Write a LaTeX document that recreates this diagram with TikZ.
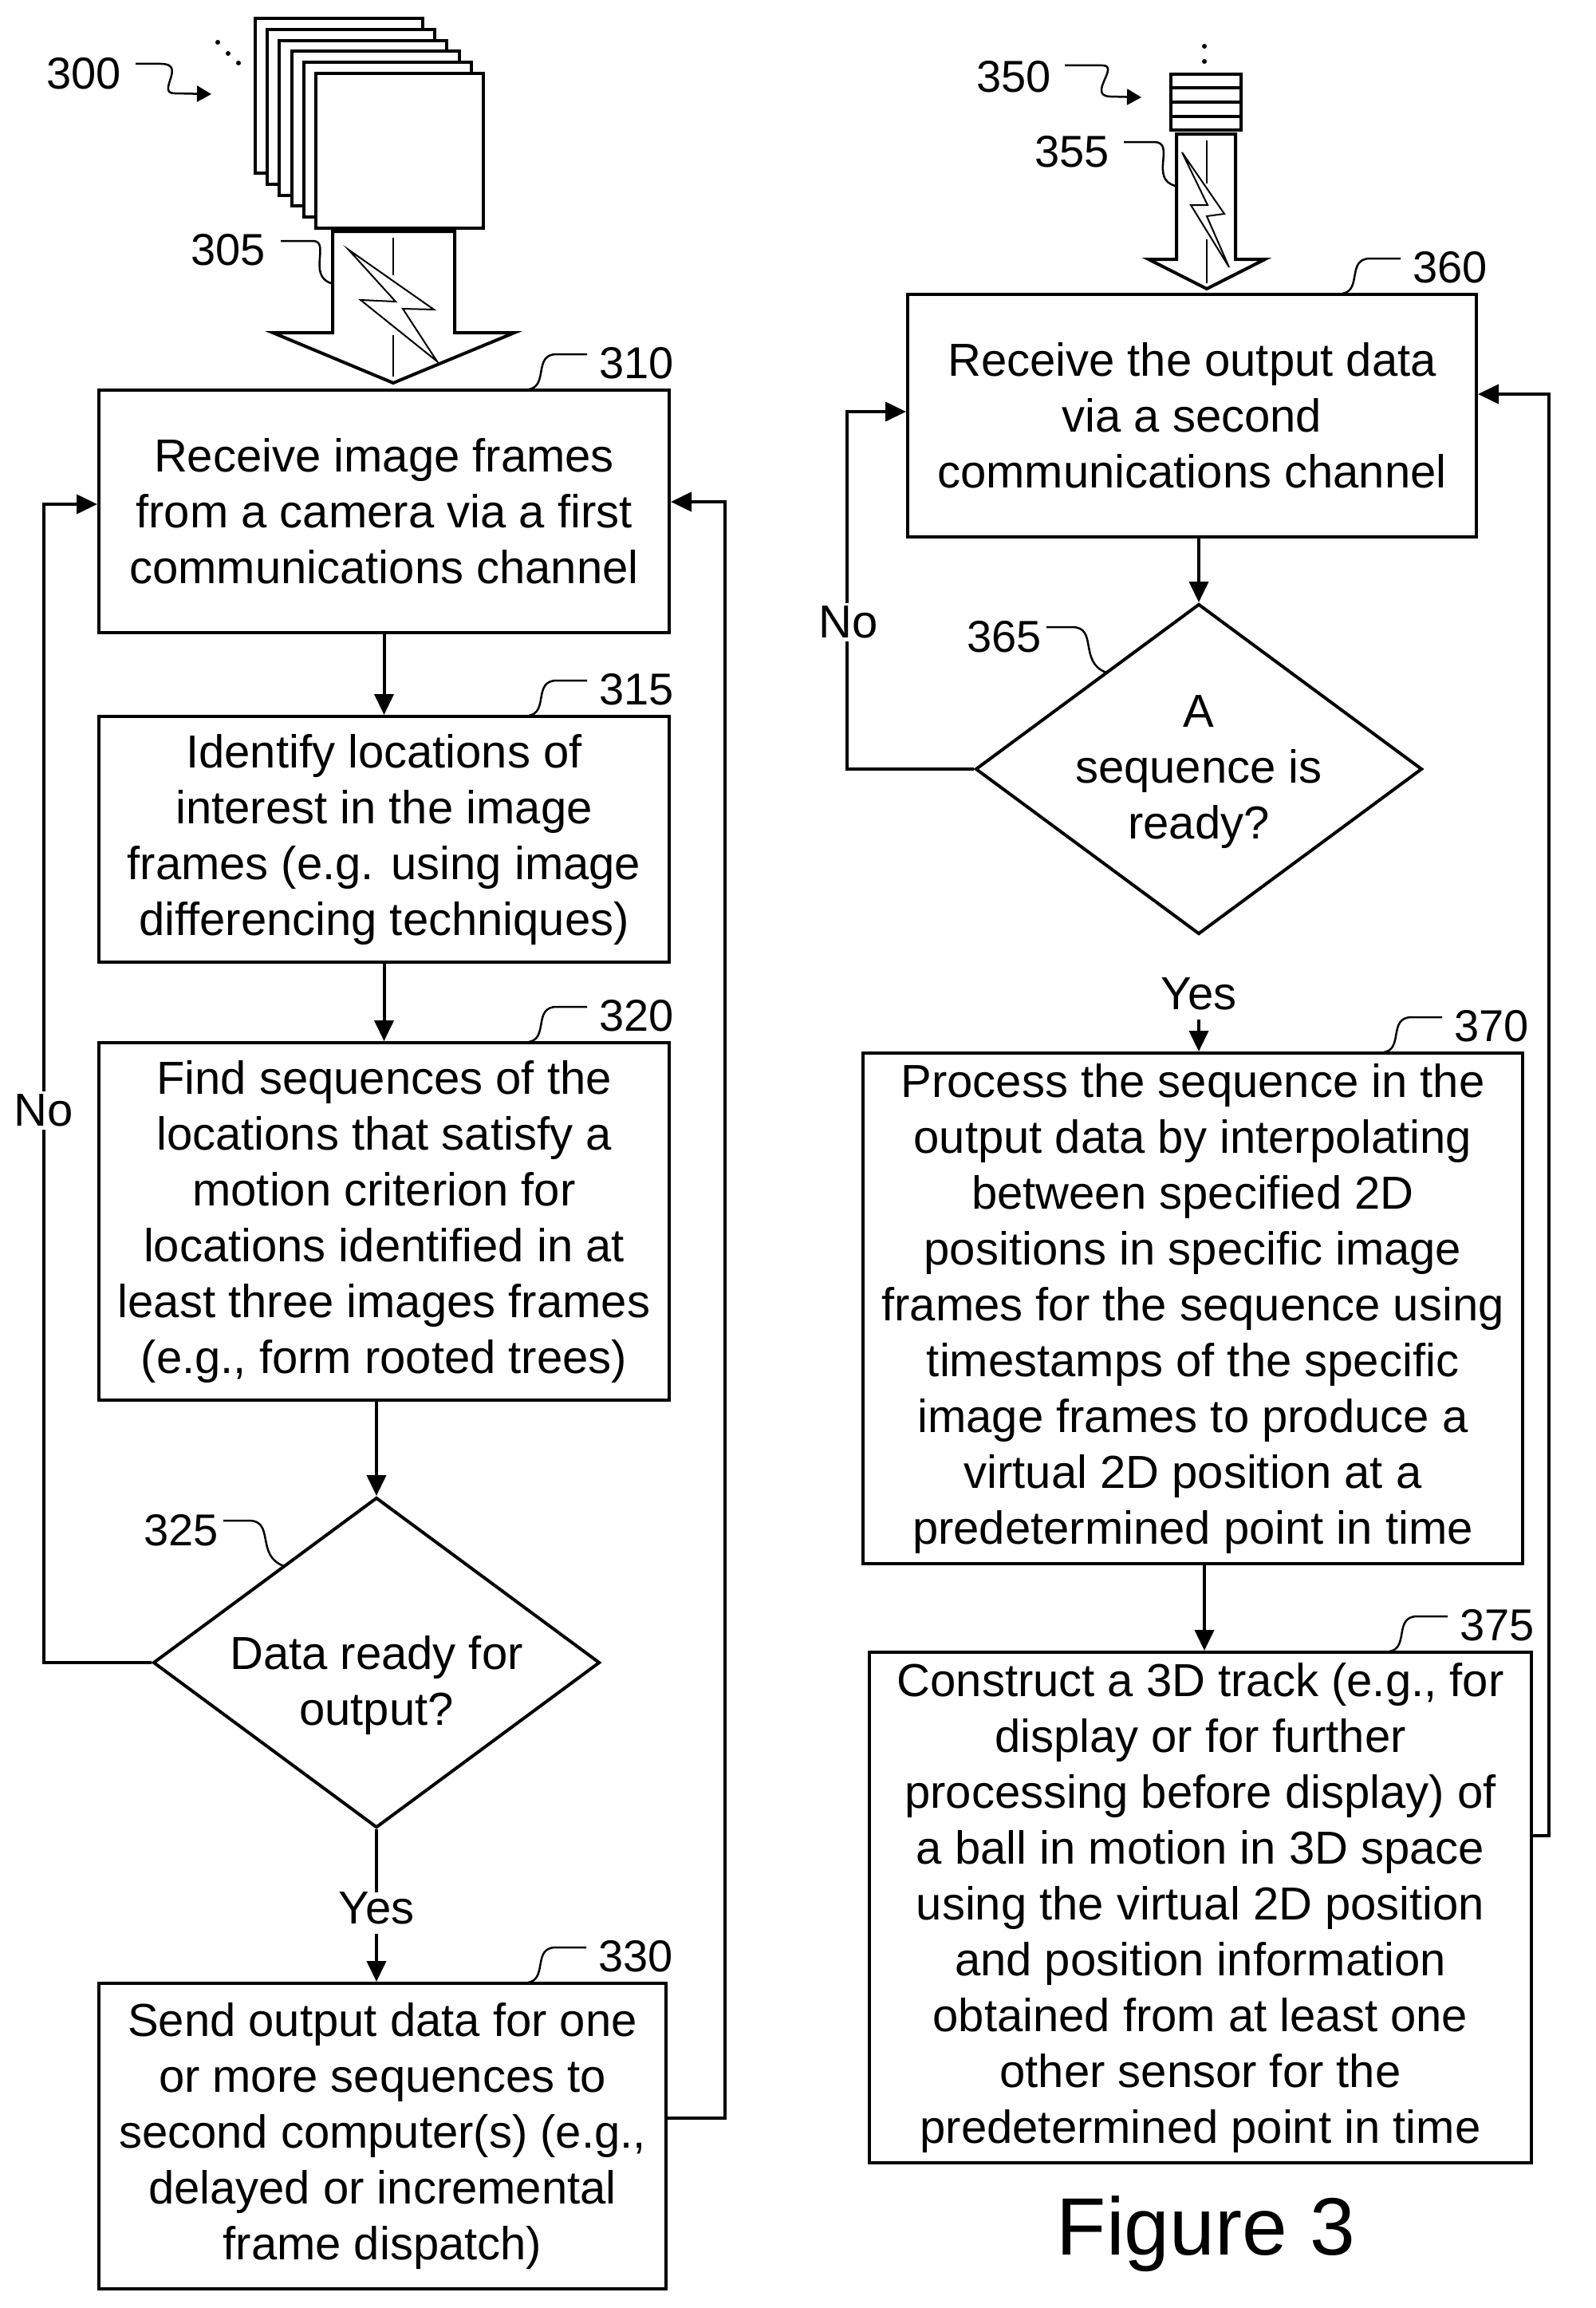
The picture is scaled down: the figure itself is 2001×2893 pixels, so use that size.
\documentclass[tikz,border=0pt]{standalone}
\usepackage{fontspec}
\setmainfont{Liberation Sans}
\usetikzlibrary{arrows.meta,shapes.geometric}
\begin{document}
\begin{tikzpicture}[x=1pt,y=-1pt,
  box/.style={draw,line width=4pt,align=center,inner sep=0pt,font=\fontsize{58}{70}\selectfont},
  dia/.style={draw,diamond,line width=4pt,inner sep=0pt,minimum width=560pt,minimum height=414pt},
  txt/.style={align=center,font=\fontsize{58}{70}\selectfont},
  lab/.style={font=\fontsize{56}{66}\selectfont},
  con/.style={line width=4pt,-{Triangle[length=26pt,width=24pt]}},
  ln/.style={line width=4pt},
  sq/.style={line width=2.5pt},
  frm/.style={draw,fill=white,line width=4pt}]
\useasboundingbox (0,0) rectangle (2001,2893);
% frames stack
\foreach \i in {0,...,5}{
  \draw[frm] (320+15.2*\i,23+13.8*\i) rectangle ++(210,194);
}
\fill (273,53) circle (3pt) (286,67) circle (3pt) (299,79) circle (3pt);
\node[lab] (l300) at (105,92) {300};
\coordinate (a300) at (170,80);
\draw[sq,-{Triangle[length=18pt,width=20pt]}] (a300) -- (202,80) .. controls (235,80) and (195,117) .. (219,117) -- (265,118);
% big arrow 305
\draw[ln,fill=white] (417,290) -- (570,290) -- (570,417) -- (645,417) -- (493,480) -- (342,417) -- (417,417) -- cycle;
\draw[line width=1.5pt] (493,298) -- (493,345) (493,420) -- (493,472);
\draw[line width=2pt,fill=white] (437,313) -- (496,378) -- (452,376) -- (548,453) -- (505,387) -- (544,388) -- cycle;
\node[lab] (l305) at (286,313) {305};
\coordinate (s305) at (352,302);
\draw[sq] (s305) -- (392,302) .. controls (415,302) and (385,345) .. (415,355);
% stack 350
\draw[line width=4pt,fill=white] (1468,93) rectangle (1556,163);
\foreach \y in {110,128,146}{\draw[line width=4pt] (1468,\y) -- (1556,\y);}
\fill (1510,58) circle (3pt) (1510,77) circle (3pt);
\node[lab] (l350) at (1271,96) {350};
\coordinate (a350) at (1335,82);
\draw[sq,-{Triangle[length=18pt,width=20pt]}] (a350) -- (1382,82) .. controls (1405,82) and (1362,120) .. (1392,121) -- (1431,122);
% arrow 355
\draw[ln,fill=white] (1475,168) -- (1549,168) -- (1549,325) -- (1586,325) -- (1513,362) -- (1440,325) -- (1475,325) -- cycle;
\draw[line width=1.5pt] (1513,176) -- (1513,230) (1513,300) -- (1513,355);
\draw[line width=2pt,fill=white] (1482,191) -- (1535,268) -- (1513,271) -- (1541,335) -- (1493,257) -- (1514,257) -- cycle;
\node[lab] (l355) at (1344,190) {355};
\coordinate (s355) at (1409,178);
\draw[sq] (s355) -- (1447,178) .. controls (1475,178) and (1440,225) .. (1474,233);
% left column
\node[box,minimum width=715pt,minimum height=304pt] (b310) at (481.5,641) {Receive image frames\\from a camera via a first\\communications channel};
\node[box,minimum width=715pt,minimum height=308pt] (b315) at (481.5,1052) {Identify locations of\\interest in the image\\frames (e.g. using image\\differencing techniques)};
\node[box,minimum width=715pt,minimum height=448pt] (b320) at (481.5,1531) {Find sequences of the\\locations that satisfy a\\motion criterion for\\locations identified in at\\least three images frames\\(e.g., form rooted trees)};
\node[dia] (d325) at (472,2084) {};
\node[txt] (t325) at (472,2112) {Data ready for\\output?};
\node[box,minimum width=711pt,minimum height=383pt] (b330) at (479.5,2677.5) {Send output data for one\\or more sequences to\\second computer(s) (e.g.,\\delayed or incremental\\frame dispatch)};
% right column
\node[box,minimum width=713pt,minimum height=304pt] (b360) at (1494.5,521) {Receive the output data\\via a second\\communications channel};
\node[dia] (d365) at (1503,964) {};
\node[txt] (t365) at (1503,968) {A\\sequence is\\ready?};
\node[box,minimum width=827pt,minimum height=640pt] (b370) at (1495.5,1640) {Process the sequence in the\\output data by interpolating\\between specified 2D\\positions in specific image\\frames for the sequence using\\timestamps of the specific\\image frames to produce a\\virtual 2D position at a\\predetermined point in time};
\node[box,minimum width=830pt,minimum height=640pt] (b375) at (1505,2391) {Construct a 3D track (e.g., for\\display or for further\\processing before display) of\\a ball in motion in 3D space\\using the virtual 2D position\\and position information\\obtained from at least one\\other sensor for the\\predetermined point in time};
\node[font=\fontsize{102}{120}\selectfont] (fig) at (1512,2800) {Figure 3};
% reference labels
\foreach \n/\x/\y/\t in {310/798/489/b310, 315/798/898/b315, 320/798/1307/b320, 330/797/2486/b330, 360/1818/369/b360, 370/1870/1320/b370, 375/1877/2071/b375}{
  \node[lab] (l\n) at (\x,\y-34) {\n};
  \draw[sq] (\x-135,\y-1) .. controls (\x-110,\y-5) and (\x-130,\y-45) .. (\x-100,\y-45) -- (\x-62,\y-45);
}
\node[lab] (l325) at (227,1918) {325};
\draw[sq] (280,1906) -- (312,1906) .. controls (345,1906) and (320,1950) .. (356,1963);
\node[lab] (l365) at (1259,798) {365};
\draw[sq] (1312,786) -- (1344,786) .. controls (1377,786) and (1352,830) .. (1387,843);
% connectors
\draw[con] (b310.south) -- (b315.north);
\draw[con] (b315.south) -- (b320.north);
\draw[con] (b320.south -| d325.north) -- (d325.north);
\draw[ln] (d325.south) -- (472,2372);
\node[txt] (y325) at (472,2392) {Yes};
\draw[con] (472,2424) -- (b330.north -| d325.south);
\coordinate (n1) at (55,2084);
\coordinate (n2) at (55,632);
\draw[con] (d325.west) -- (n1) -- (n2) -- (b310.west |- n2);
\node[txt,fill=white,inner sep=4pt] (no1) at (55,1392) {No};
\coordinate (r1) at (909,2655);
\coordinate (r2) at (909,629);
\draw[con] (b330.east |- r1) -- (r1) -- (r2) -- (b310.east |- r2);
\draw[con] (b360.south -| d365.north) -- (d365.north);
\coordinate (n3) at (1062,964);
\coordinate (n4) at (1062,516);
\draw[con] (d365.west) -- (n3) -- (n4) -- (b360.west |- n4);
\node[txt,fill=white,inner sep=4pt] (no2) at (1064,780) {No};
\node[txt] (y365) at (1503,1246) {Yes};
\draw[con] (1503,1278) -- (b370.north -| d365.south);
\coordinate (m1) at (1510,1960);
\draw[con] (m1) -- (b375.north -| m1);
\coordinate (r3) at (1942,2301);
\coordinate (r4) at (1942,494);
\draw[con] (b375.east |- r3) -- (r3) -- (r4) -- (b360.east |- r4);
\end{tikzpicture}
\end{document}
